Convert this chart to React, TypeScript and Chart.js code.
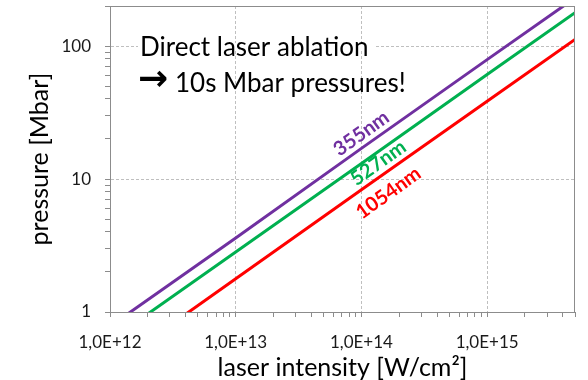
import React, { useEffect, useRef } from 'react';
import { Chart, registerables } from 'chart.js';
Chart.register(...registerables);

// ---- data ----
const intensity = [1e12, 1e13, 1e14, 1e15, 5e15]; // W/cm^2
const p355 = [0.78, 3.6, 17, 79, 230]; // Mbar
const p527 = [0.61, 2.83, 13.1, 61, 178];
const p1054 = [0.38, 1.78, 8.3, 38.4, 112];
const seriesNames = ['355nm', '527nm', '1054nm'];
const seriesColors = ['#7030A0', '#00B050', '#FF0000'];
// in-chart label anchors (data coordinates)
const labelX = [1.0e14, 1.36e14, 1.64e14];
const labelY = [22, 13.2, 7.85];

const xMin = 1e12;
const xMax = 5e15;
const yMin = 1;
const yMax = 200;
const xDecades = [1e12, 1e13, 1e14, 1e15];
const yDecades = [1, 10, 100];
const minorSteps = [1, 2, 3, 4, 5, 6, 7, 8, 9];

const arrow = '\u2192';
const titleLines = ['Direct laser ablation', '10s Mbar pressures!'];
const xTitle = 'laser intensity [W/cm\u00B2]';
const yTitle = 'pressure [Mbar]';

const FONT = 'Lato, "Open Sans", sans-serif';

const isMajor = (v: number) => Math.abs(Math.log10(v) - Math.round(Math.log10(v))) < 1e-9;

function buildTicks(decades: number[], max: number) {
  const out: { value: number; major: boolean }[] = [];
  decades.forEach((d) => {
    minorSteps.forEach((m) => {
      const v = d * m;
      if (v <= max * 1.0000001) out.push({ value: v, major: m === 1 });
    });
  });
  return out;
}

export default function App() {
  const ref = useRef<HTMLCanvasElement | null>(null);

  useEffect(() => {
    if (!ref.current) return;
    const mk = (ys: number[]) => intensity.map((x, i) => ({ x, y: ys[i] }));
    const all = [p355, p527, p1054];

    const annotations = {
      id: 'annotations',
      beforeDatasetsDraw(chart: any) {
        const { ctx, chartArea, scales } = chart;
        ctx.save();
        // text box hides the 100 gridline behind the headline
        const gy = scales.y.getPixelForValue(100);
        ctx.fillStyle = '#ffffff';
        ctx.fillRect(chartArea.left + 28, gy - 3, 238, 6);
        ctx.restore();
      },
      afterDatasetsDraw(chart: any) {
        const { ctx, chartArea, scales } = chart;
        ctx.save();
        // plot box
        ctx.strokeStyle = '#8c8c8c';
        ctx.lineWidth = 1;
        ctx.strokeRect(chartArea.left + 0.5, chartArea.top + 0.5, chartArea.right - chartArea.left - 1, chartArea.bottom - chartArea.top);
        // headline
        ctx.fillStyle = '#000000';
        ctx.textAlign = 'left';
        ctx.textBaseline = 'alphabetic';
        ctx.font = '26px ' + FONT;
        ctx.fillText(titleLines[0], chartArea.left + 30, chartArea.top + 50);
        ctx.fillText(titleLines[1], chartArea.left + 65, chartArea.top + 86);
        ctx.font = 'bold 36px "DejaVu Sans", sans-serif';
        ctx.textBaseline = 'middle';
        ctx.fillText(arrow, chartArea.left + 28, chartArea.top + 75);
        // series labels
        const x0 = scales.x.getPixelForValue(1e13);
        const x1 = scales.x.getPixelForValue(1e14);
        const y0 = scales.y.getPixelForValue(p355[1]);
        const y1 = scales.y.getPixelForValue(p355[2]);
        const angle = Math.atan2(y1 - y0, x1 - x0);
        ctx.font = 'bold 20px ' + FONT;
        ctx.textAlign = 'center';
        ctx.textBaseline = 'middle';
        seriesNames.forEach((name, i) => {
          const px = scales.x.getPixelForValue(labelX[i]);
          const py = scales.y.getPixelForValue(labelY[i]);
          ctx.save();
          ctx.translate(px, py);
          ctx.rotate(angle);
          ctx.fillStyle = seriesColors[i];
          ctx.fillText(name, 0, 0);
          ctx.restore();
        });
        ctx.restore();
      },
    };

    const gridColor = (c: any) => (c.tick && isMajor(c.tick.value) ? '#bfbfbf' : 'rgba(0,0,0,0)');

    const chart = new Chart(ref.current, {
      type: 'line',
      data: {
        datasets: all.map((ys, i) => ({
          label: seriesNames[i],
          data: mk(ys),
          borderColor: seriesColors[i],
          backgroundColor: seriesColors[i],
          borderWidth: 3,
          pointRadius: 0,
          tension: 0,
          clip: 0,
        })),
      },
      options: {
        animation: false,
        responsive: false,
        layout: { padding: { top: 6, right: 13, left: 0, bottom: 0 } },
        plugins: { legend: { display: false }, tooltip: { enabled: false } },
        scales: {
          x: {
            type: 'logarithmic',
            min: xMin,
            max: xMax,
            afterBuildTicks: (s: any) => {
              s.ticks = buildTicks(xDecades, xMax);
            },
            afterFit: (s: any) => {
              s.height = 68;
              s.paddingLeft = 0;
              s.paddingRight = 0;
            },
            grid: { color: gridColor, tickColor: '#8c8c8c', tickLength: 5, lineWidth: 1 },
            border: { display: true, color: '#8c8c8c', width: 1, dash: [3, 2] },
            ticks: {
              autoSkip: false,
              maxRotation: 0,
              padding: 15,
              color: '#1a1a1a',
              font: { family: FONT, size: 17 },
              callback: (v: any) => (isMajor(Number(v)) ? '1,0E+' + Math.round(Math.log10(Number(v))) : ''),
            },
            title: {
              display: true,
              text: xTitle,
              color: '#000',
              font: { family: FONT, size: 25 },
              padding: { top: 0, bottom: -3 },
            },
          },
          y: {
            type: 'logarithmic',
            min: yMin,
            max: yMax,
            afterBuildTicks: (s: any) => {
              s.ticks = buildTicks(yDecades, yMax);
            },
            afterFit: (s: any) => {
              s.width = 110;
              s.paddingTop = 0;
              s.paddingBottom = 0;
            },
            grid: { color: gridColor, tickColor: '#8c8c8c', tickLength: 5, lineWidth: 1 },
            border: { display: true, color: '#8c8c8c', width: 1, dash: [3, 2] },
            ticks: {
              autoSkip: false,
              padding: 14,
              color: '#1a1a1a',
              font: { family: FONT, size: 17 },
              callback: (v: any) => (isMajor(Number(v)) ? String(Math.round(Number(v))) : ''),
            },
            title: {
              display: true,
              text: yTitle,
              color: '#000',
              font: { family: FONT, size: 25 },
              padding: { top: 25, bottom: 0 },
            },
          },
        },
      },
      plugins: [annotations],
    } as any);
    return () => chart.destroy();
  }, []);

  return (
    <div style={{ position: 'fixed', left: 0, top: 0, width: 588, height: 380, background: '#fff' }}>
      <canvas ref={ref} width={588} height={380} style={{ display: 'block', width: 588, height: 380 }} />
    </div>
  );
}
